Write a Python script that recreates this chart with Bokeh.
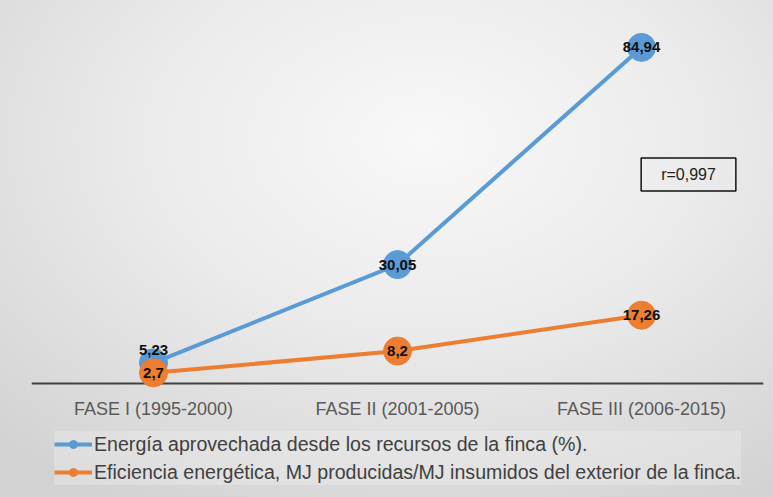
from bokeh.plotting import figure
from bokeh.models import ColumnDataSource, Label, Legend, LegendItem, Span
from bokeh.embed import file_html
from bokeh.resources import INLINE
from bokeh.core.properties import value

phases = ["FASE I (1995-2000)", "FASE II (2001-2005)", "FASE III (2006-2015)"]
energia = [5.23, 30.05, 84.94]
eficiencia = [2.7, 8.2, 17.26]
series_names = [
    "Energía aprovechada desde los recursos de la finca (%).",
    "Eficiencia energética, MJ producidas/MJ insumidos del exterior de la finca.",
]
r_text = "r=0,997"

BLUE = "#5B9BD5"
ORANGE = "#ED7D31"
FONT = "Liberation Sans"


def fmt(v):
    return f"{v:g}".replace(".", ",")


src = ColumnDataSource(dict(
    phase=phases,
    energia=energia,
    eficiencia=eficiencia,
    energia_lbl=[fmt(v) for v in energia],
    eficiencia_lbl=[fmt(v) for v in eficiencia],
    dy=[-13, 0, 0],
))

p = figure(
    x_range=phases, y_range=(-28.8, 93),
    width=773, height=497,
    min_border_left=31, min_border_right=10, min_border_top=15, min_border_bottom=0,
    y_axis_location=None,
    output_backend="svg", toolbar_location=None,
)
p.styles = {"background": "radial-gradient(ellipse 80% 85% at 55% 28%, #f8f8f8 0%, #ebebeb 45%, #d2d2d2 100%)"}
p.background_fill_color = None
p.border_fill_color = None
p.outline_line_color = None
p.grid.visible = False

ax = p.xaxis[0]
ax.fixed_location = 0
ax.axis_line_color = None
ax.major_tick_line_color = None
ax.minor_tick_line_color = None
ax.major_tick_out = 0
ax.major_tick_in = 0
ax.major_label_standoff = 15
ax.major_label_text_font = FONT
ax.major_label_text_font_size = "18px"
ax.major_label_text_color = "#595959"

p.add_layout(Span(location=0, dimension="width", line_color="#404040", line_width=2, level="underlay"))

l1 = p.line("phase", "energia", source=src, line_color=BLUE, line_width=4)
s1 = p.scatter("phase", "energia", source=src, size=28, fill_color=BLUE, line_color=BLUE)
l2 = p.line("phase", "eficiencia", source=src, line_color=ORANGE, line_width=4)
s2 = p.scatter("phase", "eficiencia", source=src, size=28, fill_color=ORANGE, line_color=ORANGE)

for col, lbl in (("energia", "energia_lbl"), ("eficiencia", "eficiencia_lbl")):
    p.text("phase", col, text=lbl, source=src, y_offset="dy" if col == "energia" else 0,
           text_align="center", text_baseline="middle",
           text_font=value(FONT), text_font_style="bold",
           text_font_size="15px", text_color="#111111")

p.add_layout(Label(
    x=2.5, y=52.8, x_offset=47, text=r_text,
    text_align="center", text_baseline="middle",
    text_font=FONT, text_font_size="16px", text_color="#222222",
    border_line_color="#111111", border_line_width=1.5,
    background_fill_color=None, padding=(20, 20, 8, 8),
))

legend = Legend(items=[
    LegendItem(label=series_names[0], renderers=[l1, s1]),
    LegendItem(label=series_names[1], renderers=[l2, s2]),
], location=(23, 12))
legend.label_text_font = FONT
legend.label_text_font_size = "19.6px"
legend.label_text_color = "#404040"
legend.glyph_width = 38
legend.glyph_height = 20
legend.label_height = 26
legend.label_standoff = 2
legend.spacing = 2
legend.padding = 3
legend.margin = 0
legend.border_line_color = None
legend.background_fill_color = "#f0f0f0"
legend.background_fill_alpha = 0.35
p.add_layout(legend)

open("out.html", "w").write(file_html(p, INLINE))
